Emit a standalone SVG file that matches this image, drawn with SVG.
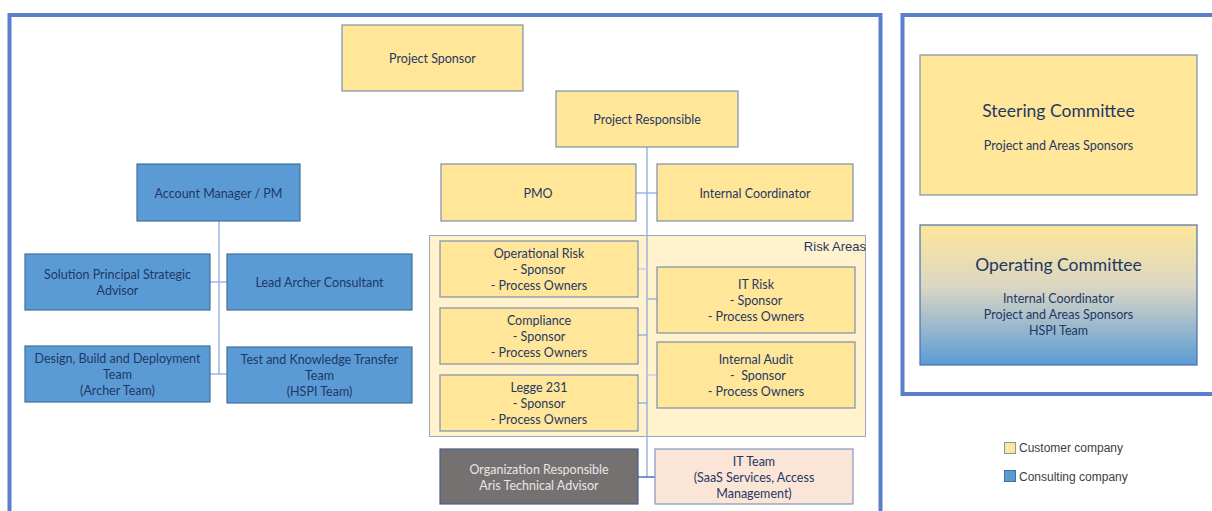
<svg xmlns="http://www.w3.org/2000/svg" width="1212" height="511" viewBox="0 0 1212 511">
  <defs>
    <linearGradient id="opGrad" x1="0" y1="0" x2="0" y2="1">
      <stop offset="0" stop-color="#FFE699"/>
      <stop offset="0.45" stop-color="#D9D6C4"/>
      <stop offset="1" stop-color="#5B9BD5"/>
    </linearGradient>
    <style>
      .frame { fill: none; stroke: #5A7FCB; stroke-width: 4; }
      .cust { fill: #FFE699; stroke: #7E8FB0; stroke-width: 1.2; }
      .cons { fill: #5B9BD5; stroke: #41719C; stroke-width: 1.2; }
      .org { fill: #767171; stroke: #4A5E8A; stroke-width: 1.2; }
      .it { fill: #FBE5D6; stroke: #8497C0; stroke-width: 1.2; }
      .area { fill: #FFF2CC; stroke: #3F5680; stroke-width: 1; stroke-dasharray: 1 1; }
      .link { fill: none; stroke: #9DB5E3; stroke-width: 1.5; }
      .link-faint { fill: none; stroke: #CBD3DE; stroke-width: 1.5; }
      .link-dark { fill: none; stroke: #4472C4; stroke-width: 1.5; }
      text { font-family: Lato, "Noto Sans", "Liberation Sans", sans-serif; font-size: 12.5px; fill: #1F3864; text-anchor: middle; dominant-baseline: central; }
      .light { fill: #E6E6E6; }
      .title { font-size: 17.5px; }
      .legend { font-family: "Liberation Sans", Arial, sans-serif; font-size: 12px; fill: #404040; text-anchor: start; }
      .areaLabel { font-family: "Liberation Sans", Arial, sans-serif; font-size: 13px; fill: #1F3864; text-anchor: end; }
    </style>
  </defs>

  <!-- panel frames -->
  <rect class="frame" x="9.5" y="15" width="871" height="520"/>
  <rect class="frame" x="902.5" y="15" width="330" height="379"/>

  <!-- risk areas container -->
  <g id="risk-areas">
    <rect class="area" x="429.5" y="235.5" width="436" height="201"/>
    <text class="areaLabel" x="866" y="246">Risk Areas</text>
  </g>

  <!-- connectors -->
  <g id="connectors">
    <line class="link" x1="647" y1="147" x2="647" y2="477"/>
    <line class="link" x1="636" y1="193" x2="657" y2="193"/>
    <line class="link-faint" x1="638" y1="269" x2="647" y2="269"/>
    <line class="link" x1="647" y1="299" x2="657" y2="299"/>
    <line class="link" x1="638" y1="335" x2="647" y2="335"/>
    <line class="link-faint" x1="647" y1="375" x2="657" y2="375"/>
    <line class="link" x1="638" y1="403" x2="647" y2="403"/>
    <line class="link-dark" x1="638" y1="477" x2="655" y2="477"/>
    <line class="link" x1="219" y1="221" x2="219" y2="374"/>
    <line class="link" x1="210" y1="282" x2="227" y2="282"/>
    <line class="link" x1="210" y1="374" x2="227" y2="374"/>
  </g>

  <g id="project-sponsor">
    <rect class="cust" x="342" y="25" width="181" height="66"/>
    <text x="432.5" y="58">Project Sponsor</text>
  </g>

  <g id="project-responsible">
    <rect class="cust" x="556" y="91" width="182" height="56"/>
    <text x="647" y="119">Project Responsible</text>
  </g>

  <g id="pmo">
    <rect class="cust" x="441" y="164" width="195" height="57"/>
    <text x="538" y="193">PMO</text>
  </g>

  <g id="internal-coordinator">
    <rect class="cust" x="657" y="164" width="196" height="57"/>
    <text x="755" y="193">Internal Coordinator</text>
  </g>

  <g id="operational-risk">
    <rect class="cust" x="440" y="241" width="198" height="56"/>
    <text x="539" y="253">Operational Risk</text>
    <text x="539" y="269">- Sponsor</text>
    <text x="539" y="285">- Process Owners</text>
  </g>

  <g id="compliance">
    <rect class="cust" x="440" y="308" width="198" height="56"/>
    <text x="539" y="320">Compliance</text>
    <text x="539" y="336">- Sponsor</text>
    <text x="539" y="352">- Process Owners</text>
  </g>

  <g id="legge-231">
    <rect class="cust" x="440" y="375" width="198" height="56"/>
    <text x="539" y="387">Legge 231</text>
    <text x="539" y="403">- Sponsor</text>
    <text x="539" y="419">- Process Owners</text>
  </g>

  <g id="it-risk">
    <rect class="cust" x="657" y="267" width="198" height="66"/>
    <text x="756" y="284">IT Risk</text>
    <text x="756" y="300">- Sponsor</text>
    <text x="756" y="316">- Process Owners</text>
  </g>

  <g id="internal-audit">
    <rect class="cust" x="657" y="342" width="198" height="66"/>
    <text x="756" y="359">Internal Audit</text>
    <text x="758" y="375">-&#160; Sponsor</text>
    <text x="756" y="391">- Process Owners</text>
  </g>

  <g id="organization-responsible">
    <rect class="org" x="440" y="449" width="198" height="55"/>
    <text class="light" x="539" y="469">Organization Responsible</text>
    <text class="light" x="539" y="485">Aris Technical Advisor</text>
  </g>

  <g id="it-team">
    <rect class="it" x="655" y="449" width="198" height="55"/>
    <text x="754" y="461">IT Team</text>
    <text x="754" y="477">(SaaS Services, Access</text>
    <text x="754" y="493">Management)</text>
  </g>

  <g id="account-manager">
    <rect class="cons" x="137" y="164" width="163" height="57"/>
    <text x="218.5" y="193">Account Manager / PM</text>
  </g>

  <g id="solution-principal">
    <rect class="cons" x="25" y="254" width="185" height="56"/>
    <text x="117.5" y="274">Solution Principal Strategic</text>
    <text x="117.5" y="290">Advisor</text>
  </g>

  <g id="lead-archer">
    <rect class="cons" x="227" y="254" width="185" height="56"/>
    <text x="319.5" y="282">Lead Archer Consultant</text>
  </g>

  <g id="design-build">
    <rect class="cons" x="25" y="346" width="185" height="56"/>
    <text x="117.5" y="358">Design, Build and Deployment</text>
    <text x="117.5" y="374.5">Team</text>
    <text x="117.5" y="390.5">(Archer Team)</text>
  </g>

  <g id="test-knowledge">
    <rect class="cons" x="227" y="347" width="185" height="56"/>
    <text x="319.5" y="359">Test and Knowledge Transfer</text>
    <text x="319.5" y="375">Team</text>
    <text x="319.5" y="391">(HSPI Team)</text>
  </g>

  <g id="steering-committee">
    <rect class="cust" x="920" y="55" width="277" height="140"/>
    <text class="title" x="1058.5" y="110">Steering Committee</text>
    <text x="1058.5" y="145">Project and Areas Sponsors</text>
  </g>

  <g id="operating-committee">
    <rect x="920" y="225" width="277" height="140" fill="url(#opGrad)" stroke="#4A6FA8" stroke-width="1.2"/>
    <text class="title" x="1058.5" y="264">Operating Committee</text>
    <text x="1058.5" y="298.5">Internal Coordinator</text>
    <text x="1058.5" y="314.5">Project and Areas Sponsors</text>
    <text x="1058.5" y="330">HSPI Team</text>
  </g>

  <g id="legend">
    <rect x="1004.5" y="442.5" width="11" height="11" fill="#FFE699" stroke="#8497B0" stroke-width="1"/>
    <text class="legend" x="1019" y="448">Customer company</text>
    <rect x="1004.5" y="470.5" width="11" height="11" fill="#5B9BD5" stroke="#41719C" stroke-width="1"/>
    <text class="legend" x="1019" y="476.5">Consulting company</text>
  </g>
</svg>
